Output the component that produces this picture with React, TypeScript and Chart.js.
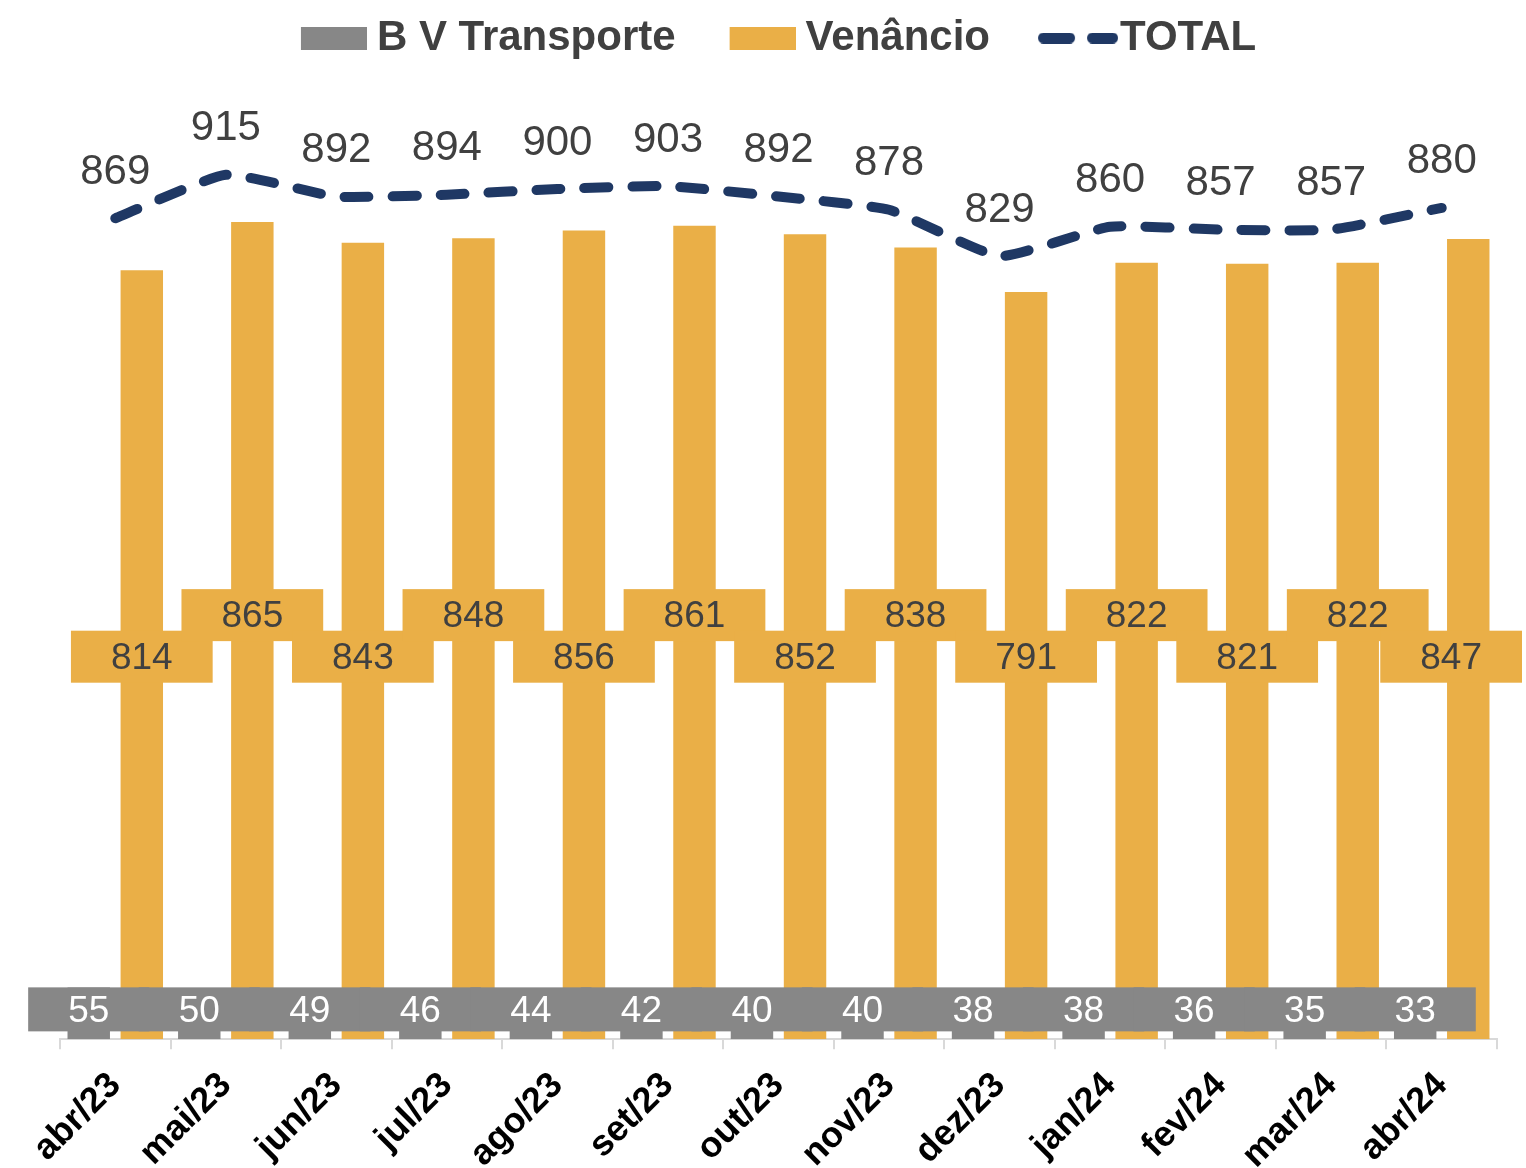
import React, { useEffect, useRef } from "react";
import { Chart, registerables } from "chart.js";

Chart.register(...registerables);

const categories = ["abr/23", "mai/23", "jun/23", "jul/23", "ago/23", "set/23", "out/23", "nov/23", "dez/23", "jan/24", "fev/24", "mar/24", "abr/24"];
const bvTransporte = [55, 50, 49, 46, 44, 42, 40, 40, 38, 38, 36, 35, 33];
const venancio = [814, 865, 843, 848, 856, 861, 852, 838, 791, 822, 821, 822, 847];
const total = [869, 915, 892, 894, 900, 903, 892, 878, 829, 860, 857, 857, 880];
const seriesNames = ["B V Transporte", "Venâncio", "TOTAL"];

const GRAY = "#878787";
const ORANGE = "#EAAF47";
const NAVY = "#1F3864";
const TEXT = "#404040";
const FONT = '"Liberation Sans", Arial, sans-serif';

const LEGEND_SLOT = 55;

function makeRectIcon(color: string) {
  const W = LEGEND_SLOT + 22;
  const c = document.createElement("canvas");
  c.width = W;
  c.height = 23;
  const g = c.getContext("2d")!;
  g.fillStyle = color;
  g.fillRect(W - 66, 0, 66, 23);
  return c;
}

function makeDashIcon(color: string) {
  const W = LEGEND_SLOT + 38;
  const h = 11;
  const len = 80;
  const c = document.createElement("canvas");
  c.width = W;
  c.height = h;
  const g = c.getContext("2d")!;
  g.strokeStyle = color;
  g.lineWidth = h;
  g.lineCap = "round";
  g.setLineDash([26, 23]);
  g.beginPath();
  g.moveTo(W - len + h / 2, h / 2);
  g.lineTo(W - h / 2, h / 2);
  g.stroke();
  return c;
}

const labelPlugin = {
  id: "customLabels",
  afterDatasetsDraw(chart: any) {
    const ctx = chart.ctx as CanvasRenderingContext2D;
    const y = chart.scales.y;
    const base = y.getPixelForValue(0);
    const maxX = chart.width - 4;
    ctx.save();
    ctx.textAlign = "center";
    ctx.textBaseline = "middle";

    // Venâncio labels (orange boxes, staggered)
    ctx.font = `37px ${FONT}`;
    const m1 = chart.getDatasetMeta(1);
    m1.data.forEach((bar: any, i: number) => {
      const cy = y.getPixelForValue(i % 2 === 0 ? 405 : 449);
      const txt = String(venancio[i]);
      const w = ctx.measureText(txt).width + 80;
      let cx = bar.x;
      if (cx + w / 2 > maxX) cx = maxX - w / 2;
      ctx.fillStyle = ORANGE;
      ctx.fillRect(cx - w / 2, cy - 26, w, 52);
      ctx.fillStyle = TEXT;
      ctx.fillText(txt, cx, cy + 2);
    });

    // B V Transporte labels (gray boxes at base)
    const m0 = chart.getDatasetMeta(0);
    m0.data.forEach((bar: any, i: number) => {
      const txt = String(bvTransporte[i]);
      const w = ctx.measureText(txt).width + 80;
      const bottom = base - 8;
      ctx.fillStyle = GRAY;
      ctx.fillRect(bar.x - w / 2, bottom - 44, w, 44);
      ctx.fillStyle = "#FFFFFF";
      ctx.fillText(txt, bar.x, bottom - 20);
    });

    // TOTAL labels above line
    ctx.font = `42px ${FONT}`;
    ctx.fillStyle = TEXT;
    const m2 = chart.getDatasetMeta(2);
    m2.data.forEach((pt: any, i: number) => {
      ctx.fillText(String(total[i]), pt.x, pt.y - 46);
    });
    ctx.restore();
  },
};

export default function App() {
  const ref = useRef<HTMLCanvasElement | null>(null);

  useEffect(() => {
    document.body.style.margin = "0";
    const canvas = ref.current!;
    const icons = [makeRectIcon(GRAY), makeRectIcon(ORANGE), makeDashIcon(NAVY)];
    const chart = new Chart(canvas, {
      type: "bar",
      data: {
        labels: categories,
        datasets: [
          {
            type: "bar",
            label: seriesNames[0],
            data: bvTransporte,
            backgroundColor: GRAY,
            categoryPercentage: 0.96,
            barPercentage: 0.8,
            order: 2,
          },
          {
            type: "bar",
            label: seriesNames[1],
            data: venancio,
            backgroundColor: ORANGE,
            categoryPercentage: 0.96,
            barPercentage: 0.8,
            order: 3,
          },
          {
            type: "line",
            label: seriesNames[2],
            data: total,
            borderColor: NAVY,
            backgroundColor: NAVY,
            borderWidth: 10,
            borderDash: [24, 24],
            borderCapStyle: "round",
            pointRadius: 0,
            tension: 0.15,
            fill: false,
            order: 1,
          } as any,
        ],
      },
      options: {
        responsive: false,
        animation: false,
        devicePixelRatio: 1,
        layout: { padding: { left: 60, right: 29, top: -37, bottom: -24 } },
        plugins: {
          tooltip: { enabled: false },
          legend: {
            position: "top",
            labels: {
              usePointStyle: true,
              pointStyleWidth: LEGEND_SLOT,
              boxHeight: 23,
              padding: 54,
              color: TEXT,
              font: { family: FONT, size: 42, weight: "bold" },
              generateLabels: () =>
                seriesNames.map((name, i) => ({
                  text: name,
                  pointStyle: icons[i],
                  fillStyle: "transparent",
                  strokeStyle: "transparent",
                  lineWidth: 0,
                  hidden: false,
                  datasetIndex: i,
                  fontColor: TEXT,
                })),
            },
          },
        },
        scales: {
          x: {
            offset: true,
            grid: {
              display: true,
              drawOnChartArea: false,
              drawTicks: true,
              tickLength: 10,
              offset: true,
              color: "#D9D9D9",
              lineWidth: 2,
            },
            border: { display: true, color: "#D9D9D9", width: 2 },
            ticks: {
              color: "#000000",
              autoSkip: false,
              maxRotation: 45,
              minRotation: 45,
              padding: 15,
              font: { family: FONT, size: 36, weight: "bold" },
            },
          },
          y: {
            display: false,
            min: 0,
            max: 1027,
          },
        },
      },
      plugins: [labelPlugin],
    });
    return () => chart.destroy();
  }, []);

  return (
    <div style={{ width: 1526, height: 1168 }}>
      <canvas ref={ref} width={1526} height={1168} style={{ display: "block" }} />
    </div>
  );
}
